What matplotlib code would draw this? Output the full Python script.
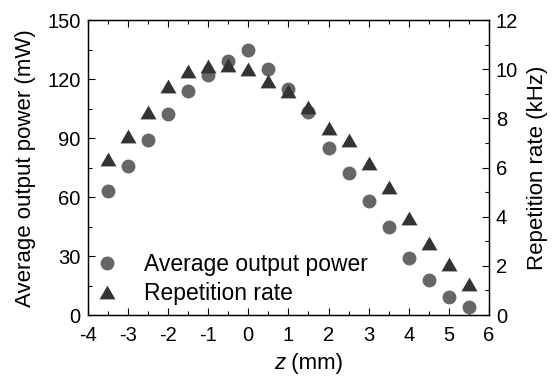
import matplotlib
matplotlib.use("Agg")
import matplotlib.pyplot as plt
from matplotlib.ticker import MultipleLocator

plt.rcParams['font.family'] = ['Liberation Sans', 'DejaVu Sans']
plt.rcParams['axes.unicode_minus'] = False

z = [-3.5, -3, -2.5, -2, -1.5, -1, -0.5, 0, 0.5, 1, 1.5, 2, 2.5, 3, 3.5, 4, 4.5, 5, 5.5]
power = [63, 76, 89, 102, 114, 122, 129, 135, 125, 115, 103, 85, 72, 58, 45, 29, 18, 9, 4]
rate = [6.33, 7.3, 8.27, 9.32, 9.94, 10.13, 10.18, 10.01, 9.53, 9.13, 8.45, 7.59, 7.11, 6.2, 5.2, 3.94, 2.92, 2.09, 1.28]

tri = [(-1, -0.866), (1, -0.866), (0, 0.866), (-1, -0.866)]

fig = plt.figure(figsize=(5.57, 3.78), dpi=100)
ax = fig.add_axes([0.1575, 0.1665, 0.7205, 0.7805])
ax2 = ax.twinx()

h1, = ax.plot(z, power, 'o', color='#666666', markersize=10, markeredgewidth=0,
              label='Average output power', zorder=3)
h2, = ax2.plot(z, rate, marker=tri, linestyle='none', color='#333333', markersize=11.5,
               markeredgewidth=0, label='Repetition rate', zorder=3)

ax.set_xlim(-4, 6)
ax.set_ylim(0, 150)
ax2.set_ylim(0, 12)
ax.xaxis.set_major_locator(MultipleLocator(1))
ax.xaxis.set_minor_locator(MultipleLocator(0.5))
ax.yaxis.set_major_locator(MultipleLocator(30))
ax.yaxis.set_minor_locator(MultipleLocator(15))
ax2.yaxis.set_major_locator(MultipleLocator(2))
ax2.yaxis.set_minor_locator(MultipleLocator(1))

fs = 14.5
ax.tick_params(axis='x', which='both', direction='in', top=True, labelsize=fs, pad=8)
ax.tick_params(axis='y', which='both', direction='in', labelsize=fs, pad=5)
ax2.tick_params(axis='y', which='both', direction='in', labelsize=fs, pad=5)
for a in (ax, ax2):
    a.tick_params(which='major', length=5, width=0.8)
    a.tick_params(which='minor', length=3, width=0.8)
    for s in a.spines.values():
        s.set_linewidth(0.9)

lfs = 16
fig.text(0.5118, 1 - 353 / 378, 'z', fontsize=lfs, style='italic', ha='right', va='top')
fig.text(0.5118, 1 - 353 / 378, ' (mm)', fontsize=lfs, ha='left', va='top')

fig.text(26 / 557, 0.5 * (1 - 20 / 378) + 0.5 * (1 - 316 / 378), 'Average output power (mW)',
         fontsize=lfs, rotation=90, ha='center', va='center')
fig.text(538 / 557, 0.5 * (1 - 20 / 378) + 0.5 * (1 - 316 / 378), 'Repetition rate (kHz)',
         fontsize=lfs, rotation=90, ha='center', va='center')

ax.legend(handles=[h1, h2], loc='lower left', frameon=False, fontsize=16.5,
          handletextpad=1.0, handlelength=1.2, borderaxespad=0.0, labelspacing=0.25,
          borderpad=0.25, bbox_to_anchor=(0.0, 0.014))

fig.savefig('out.png', dpi=100)
